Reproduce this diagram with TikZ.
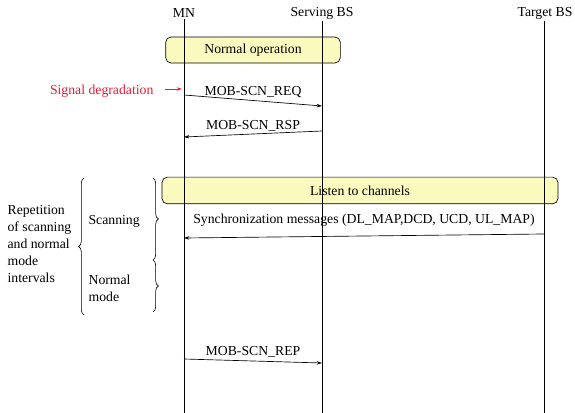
\documentclass[tikz,border=0pt]{standalone}
\usepackage{fontspec}
\setmainfont{Liberation Serif}
\usetikzlibrary{positioning}
\usetikzlibrary{arrows.meta,decorations.pathreplacing}
\definecolor{boxyellow}{RGB}{250,250,190}
\definecolor{alertred}{RGB}{235,25,55}

\begin{document}
\begin{tikzpicture}[x=0.75pt, y=-0.75pt,
    every node/.style = {font=\fontsize{10.3}{12.75}\selectfont, inner sep=1pt},
      lifeline/.style = {line width=0.6pt},
      phase/.style = {draw, fill=boxyellow, rounded corners=4pt, line width=0.5pt},
      msg/.style = {line width=0.5pt, -{Stealth[length=4pt,width=2.6pt]}},
      bracket/.style = {decorate, decoration={brace, amplitude=4pt}, line width=0.45pt}
    ]
    \useasboundingbox (0,0) rectangle (575,413);

    % stations
    \node (mn) at (184,13) {MN};
    \node (sbs) at (322,13) {Serving BS};
    \node (tbs) at (545,13) {Target BS};

    % phases (drawn under the lifelines)
    \node[phase, minimum width=131pt, minimum height=19.5pt] (normop) at (253,50) {Normal operation};
    \node[phase, minimum width=297pt, minimum height=20pt] (listen) at (360,190.5) {Listen to channels};

    % lifelines
    \coordinate (mn-end) at (184,413);
    \coordinate (sbs-end) at (322,413);
    \coordinate (tbs-end) at (544,413);
    \draw[lifeline] (mn.south) -- (mn-end);
    \draw[lifeline] (sbs.south) -- (sbs-end);
    \draw[lifeline] (tbs.south -| tbs-end) -- (tbs-end);

    % trigger
    \node[text=alertred, anchor=east] (sigdeg) at (155,91) {Signal degradation};
    \coordinate (sig-tip) at (182,89);
    \draw[msg, alertred] ([shift={(10,-2)}]sigdeg.east) -- (sig-tip);

    % messages
    \coordinate (req-a) at (184,95);
    \coordinate (req-b) at (322,106);
    \draw[msg] (req-a) -- node[above=1pt] (req) {MOB-SCN\_REQ} (req-b);
    \coordinate (rsp-a) at (322,131);
    \coordinate (rsp-b) at (184,137);
    \draw[msg] (rsp-a) -- node[above=1pt] (rsp) {MOB-SCN\_RSP} (rsp-b);
    \coordinate (sync-a) at (544,234);
    \coordinate (sync-b) at (184,238);
    \draw[msg] (sync-a) -- node[above=6pt] (sync) {Synchronization messages (DL\_MAP,DCD, UCD, UL\_MAP)} (sync-b);
    \coordinate (rep-a) at (184,359);
    \coordinate (rep-b) at (322,363);
    \draw[msg] (rep-a) -- node[above=1.5pt] (rep) {MOB-SCN\_REP} (rep-b);

    % scanning / normal mode intervals
    \coordinate (cycle-top) at (84,178);
    \coordinate (cycle-bot) at (84,315);
    \draw[bracket] (cycle-bot) -- (cycle-top);
    \coordinate (scan-top) at (153,178);
    \coordinate (scan-bot) at (153,260);
    \coordinate (norm-bot) at (153,312);
    \draw[bracket] (scan-top) -- (scan-bot);
    \draw[bracket] (scan-bot) -- (norm-bot);

    \node[align=left, anchor=west] (cycle) at (6,244) {Repetition\\of scanning\\and normal\\mode\\intervals};
    \node[anchor=west] (scan) at (87,221) {Scanning};
    \node[align=left, anchor=west] (normal) at (87,288) {Normal\\mode};
\end{tikzpicture}
\end{document}
